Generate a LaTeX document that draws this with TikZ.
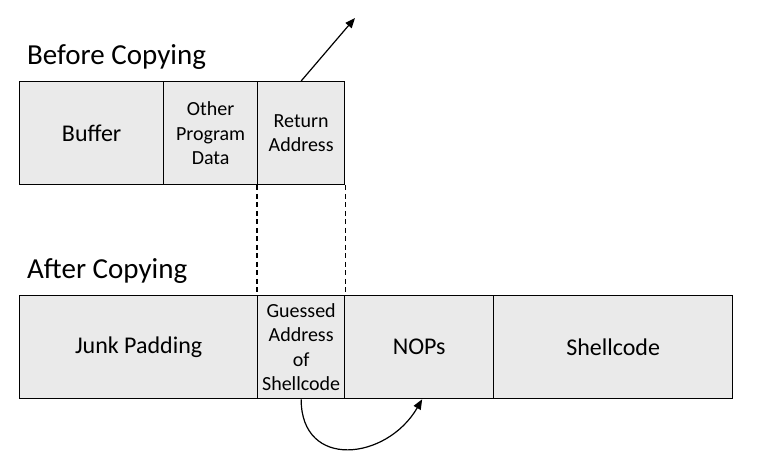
\documentclass[tikz,border=0pt]{standalone}
\usepackage{fontspec}
\setmainfont{Carlito}
\usepackage{xcolor}
\definecolor{cellgray}{HTML}{EAEAEA}
\usepackage{tikz}
\usetikzlibrary{arrows.meta, positioning}

\begin{document}
\begin{tikzpicture}[x=1pt, y=-1pt,
    cell/.style={draw, line width=1.3pt, fill=cellgray, anchor=north west,
      minimum height=103pt, inner sep=0pt, align=center},
    big/.style={font=\fontsize{24}{29}\selectfont},
    small/.style={font=\fontsize{20}{24.6}\selectfont},
    heading/.style={anchor=base west, inner sep=0pt, font=\fontsize{29}{35}\selectfont}]
  \useasboundingbox (0,0) rectangle (760,454);

  % Before copying
  \node[heading] (before) at (27,65) {Before Copying};
  \node[cell, big, minimum width=144pt] (buffer) at (19,81) {Buffer};
  \node[cell, small, minimum width=94pt] (other) at (163,81) {Other\\Program\\Data};
  \node[cell, small, minimum width=87pt] (ret) at (257,81) {Return\\Address};

  % After copying
  \node[heading] (after) at (27,279) {After Copying};
  \node[cell, big, minimum width=238pt] (junk) at (19,295) {Junk Padding};
  \node[cell, small, minimum width=87pt] (guess) at (257,295) {Guessed\\Address\\of\\Shellcode};
  \node[cell, big, minimum width=149pt] (nops) at (344,295) {NOPs};
  \node[cell, big, minimum width=239pt] (shell) at (493,295) {Shellcode};

  % Overwritten return address
  \draw[line width=1.1pt, dash pattern=on 5pt off 3.5pt] (ret.south west) -- (guess.north west);
  \draw[line width=1.1pt, dash pattern=on 5pt off 3.5pt] (ret.south east) -- (guess.north east);

  % Arrows
  \coordinate (away) at (355,18);
  \draw[line width=1.2pt, -{Triangle[length=10pt, width=8pt]}] (ret.north) -- (away);
  \draw[line width=1.2pt, -{Triangle[length=10pt, width=8pt]}]
    (guess.south) to[out=-90, in=-120, looseness=1.5] ([xshift=3pt]nops.south);
\end{tikzpicture}
\end{document}
